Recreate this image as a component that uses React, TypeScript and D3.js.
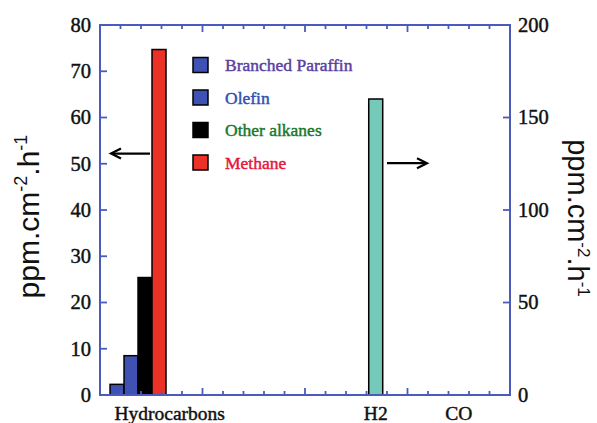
import React from "react";
import * as d3 from "d3";

const hcSeries = ["Branched Paraffin", "Olefin", "Other alkanes", "Methane"];
const hcValues = [2.3, 8.5, 25.4, 74.7];
const categories = ["Hydrocarbons", "H2", "CO"];
const h2Value = 160;
const leftTicks = [0, 10, 20, 30, 40, 50, 60, 70, 80];
const rightTicks = [0, 50, 100, 150, 200];

const barColors = ["#3f52b4", "#3f52b4", "#000000", "#ec3226"];
const legendTextColors = ["#5a40a0", "#2f4fb2", "#17782c", "#e3173e"];
const h2Color = "#74c9b9";
const axisColor = "#4a5bbd";

const W = 597, H = 423;
const M = { left: 100, right: 510, top: 25, bottom: 395 };
// category centres in x-axis units (axis domain 0..4)
const catPos: Record<string, number> = { Hydrocarbons: 0.68, H2: 2.69, CO: 3.5 };

const serif = "Liberation Serif";
const sans = "Liberation Sans";

export default function App() {
  const x = d3.scaleLinear().domain([0, 4]).range([M.left, M.right]);
  const yL = d3.scaleLinear().domain([0, 80]).range([M.bottom, M.top]);
  const yR = d3.scaleLinear().domain([0, 200]).range([M.bottom, M.top]);
  const hcBand = d3.scaleBand<string>().domain(hcSeries).range([x(0.098), x(0.644)]).padding(0);
  const barW = hcBand.bandwidth();

  const minor = d3.range(0, 4.0001, 0.2).filter((v) => v > 0.01 && v < 3.99);
  const sStyle = (c: string): React.CSSProperties => ({ fontFamily: serif, stroke: c, strokeWidth: 0.45 });

  return (
    <svg width={W} height={H} style={{ position: "absolute", left: 0, top: 0, background: "#fff" }}>
      {hcSeries.map((s, i) => (
        <rect key={s} x={hcBand(s)} y={yL(hcValues[i])} width={barW} height={yL(0) - yL(hcValues[i])}
          fill={barColors[i]} stroke="#000" strokeWidth={1.5} />
      ))}
      <rect x={x(catPos.H2) - barW / 2} y={yR(h2Value)} width={barW} height={yR(0) - yR(h2Value)}
        fill={h2Color} stroke="#000" strokeWidth={1.5} />

      <rect x={M.left} y={M.top} width={M.right - M.left} height={M.bottom - M.top}
        fill="none" stroke={axisColor} strokeWidth={2} />
      {minor.map((v) => {
        const major = Math.abs(v - Math.round(v)) < 1e-6;
        const len = major ? 7 : 4;
        return (
          <g key={v} stroke={axisColor} strokeWidth={1.8}>
            <line x1={x(v)} x2={x(v)} y1={M.bottom} y2={M.bottom - len} />
            <line x1={x(v)} x2={x(v)} y1={M.top} y2={M.top + len} />
          </g>
        );
      })}
      {leftTicks.map((t) => (
        <g key={"l" + t}>
          {t > 0 && t < 80 && <line x1={M.left} x2={M.left + 7} y1={yL(t)} y2={yL(t)} stroke={axisColor} strokeWidth={1.8} />}
          <text x={91} y={yL(t)} dy="0.34em" textAnchor="end" style={sStyle("#111")} fontSize={20.5} fill="#111">{t}</text>
        </g>
      ))}
      {rightTicks.map((t) => (
        <g key={"r" + t}>
          {t > 0 && t < 200 && <line x1={M.right} x2={M.right - 7} y1={yR(t)} y2={yR(t)} stroke={axisColor} strokeWidth={1.8} />}
          <text x={518} y={yR(t)} dy="0.34em" textAnchor="start" style={sStyle("#111")} fontSize={20.5} fill="#111">{t}</text>
        </g>
      ))}

      {categories.map((c) => (
        <text key={c} x={x(catPos[c])} y={420} textAnchor="middle" style={sStyle("#111")} fontSize={19.5} fill="#111">{c}</text>
      ))}

      <text transform={`translate(38.5,216.5) rotate(-90)`} textAnchor="middle" style={{ fontFamily: sans }} fontSize={30} fill="#111">
        ppm.cm<tspan dy={-12} fontSize={18}>-2</tspan><tspan dy={12}>.h</tspan><tspan dy={-12} fontSize={18}>-1</tspan>
      </text>
      <text transform={`translate(568,218) rotate(90)`} textAnchor="middle" style={{ fontFamily: sans }} fontSize={29} fill="#111">
        ppm.cm<tspan dy={-10} fontSize={17}>-2</tspan><tspan dy={10}>.h</tspan><tspan dy={-10} fontSize={17}>-1</tspan>
      </text>

      {hcSeries.map((s, i) => (
        <g key={"lg" + s} transform={`translate(193,${65 + i * 32.5})`}>
          <rect x={0} y={-7.5} width={15} height={15} fill={barColors[i]} stroke="#000" strokeWidth={1.5} />
          <text x={32} y={0} dy="0.35em" style={sStyle(legendTextColors[i])} fontSize={17.5} fill={legendTextColors[i]}>{s}</text>
        </g>
      ))}

      <g stroke="#000" strokeWidth={2.2} fill="none">
        <line x1={150} x2={112} y1={yL(52.2)} y2={yL(52.2)} />
        <polyline points={`${121},${yL(52.2) - 5} ${111},${yL(52.2)} ${121},${yL(52.2) + 5}`} />
        <line x1={387} x2={426} y1={yR(125.3)} y2={yR(125.3)} />
        <polyline points={`${417},${yR(125.3) - 5} ${427},${yR(125.3)} ${417},${yR(125.3) + 5}`} />
      </g>
    </svg>
  );
}
